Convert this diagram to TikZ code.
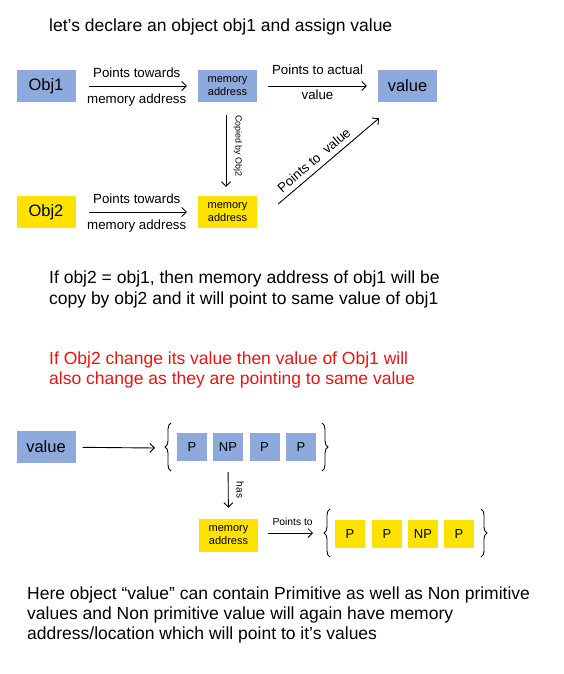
\documentclass[tikz,border=0pt]{standalone}
\usepackage{fontspec}
\setmainfont{Liberation Sans}
\usetikzlibrary{decorations.pathreplacing,arrows.meta}
\definecolor{boxblue}{RGB}{142,169,219}
\definecolor{boxyellow}{RGB}{255,226,0}
\definecolor{notered}{RGB}{235,20,20}
\tikzset{
  box/.style={minimum width=59pt, minimum height=32pt, inner sep=0pt, font=\fontsize{16.5}{18}\selectfont},
  membox/.style={minimum width=59pt, minimum height=32pt, inner sep=0pt, align=center, font=\fontsize{11}{13}\selectfont},
  cell/.style={minimum width=30pt, minimum height=28pt, inner sep=0pt, font=\fontsize{13}{15}\selectfont},
  arr/.style={-{Straight Barb[length=4.5pt,width=9pt]}, line width=0.9pt},
  lbl/.style={font=\fontsize{13.3}{15}\selectfont, inner sep=0pt},
  para/.style={anchor=base west, inner sep=0pt, font=\fontsize{17.5}{21}\selectfont},
  brc/.style={decorate, decoration={brace, amplitude=6pt}, line width=0.9pt},
}
\begin{document}
\begin{tikzpicture}[x=1pt,y=-1pt]
\useasboundingbox[fill=white] (0,0) rectangle (564,674);

\node[para] (title) at (49,32) {let’s declare an object obj1 and assign value};

% top row
\node[box, fill=boxblue] (obj1) at (46,86) {Obj1};
\node[membox, fill=boxblue] (mem1) at (227.5,86) {memory\\address};
\node[box, fill=boxblue] (val1) at (407.5,86) {value};
\node[box, fill=boxyellow] (obj2) at (46,212) {Obj2};
\node[membox, fill=boxyellow] (mem2) at (227.5,212) {memory\\address};

\draw[arr, shorten <=13pt, shorten >=11pt] (obj1) -- (mem1)
  node[lbl, midway, anchor=base, yshift=8pt] {Points towards}
  node[lbl, midway, anchor=base, yshift=-17pt] {memory address};
\draw[arr, shorten <=11pt, shorten >=11pt] (mem1) -- (val1)
  node[lbl, midway, anchor=base, yshift=11pt] {Points to actual}
  node[lbl, midway, anchor=base, yshift=-14pt] {value};
\draw[arr, shorten <=13pt, shorten >=11pt] (obj2) -- (mem2)
  node[lbl, midway, anchor=base, yshift=9pt] {Points towards}
  node[lbl, midway, anchor=base, yshift=-17pt] {memory address};
\draw[arr, shorten <=13pt, shorten >=9pt] ([xshift=-1.5pt]mem1.south) -- ([xshift=-1.5pt]mem2.north)
  node[midway, rotate=-90, xshift=-3pt, yshift=12pt, inner sep=0pt, font=\fontsize{8.9}{10}\selectfont] {Copied by Obj2};
\draw[arr] ([shift={(21,-8)}]mem2.east) -- ([shift={(-28.5,16)}]val1.south)
  node[lbl, pos=0.42, sloped, above=5pt] {Points to~ value};

% paragraphs
\node[para] (p1) at (49,283) {If obj2 = obj1, then memory address of obj1 will be};
\node[para] (p2) at (49,304) {copy by obj2 and it will point to same value of obj1};
\node[para, text=notered] (r1) at (49,364) {If Obj2 change its value then value of Obj1 will};
\node[para, text=notered] (r2) at (49,384) {also change as they are pointing to same value};

% lower diagram
\node[box, fill=boxblue] (val2) at (46,447) {value};
\coordinate (g1in) at (155,448);
\node[cell, fill=boxblue] (c1) at (192,447) {P};
\node[cell, fill=boxblue] (c2) at (228,447) {NP};
\node[cell, fill=boxblue] (c3) at (264.5,447) {P};
\node[cell, fill=boxblue] (c4) at (301,447) {P};
\draw[brc] (171,471) -- (171,423);
\draw[brc] (322,423) -- (322,471);
\draw[arr, shorten <=7pt] (val2) -- (g1in);

\node[membox, fill=boxyellow, minimum height=33pt] (mem3) at (228.5,535.5) {memory\\address};
\draw[arr, shorten <=11pt, shorten >=11pt] (c2) -- (mem3)
  node[midway, rotate=-90, yshift=12pt, inner sep=0pt, font=\fontsize{10}{12}\selectfont] {has};

\coordinate (g2in) at (313,533);
\node[cell, fill=boxyellow] (d1) at (350,534) {P};
\node[cell, fill=boxyellow] (d2) at (387,534) {P};
\node[cell, fill=boxyellow] (d3) at (423,534) {NP};
\node[cell, fill=boxyellow] (d4) at (459,534) {P};
\draw[brc] (330,557) -- (330,509);
\draw[brc] (481,509) -- (481,557);
\draw[arr, line width=0.8pt] ([shift={(10,-2.5)}]mem3.east) -- (g2in)
  node[midway, anchor=base, yshift=8pt, xshift=2pt, inner sep=0pt, font=\fontsize{10.3}{12}\selectfont] {Points to};

\node[para] (b1) at (27,599) {Here object “value” can contain Primitive as well as Non primitive};
\node[para] (b2) at (27,619) {values and Non primitive value will again have memory};
\node[para] (b3) at (27,639) {address/location which will point to it’s values};
\end{tikzpicture}
\end{document}
